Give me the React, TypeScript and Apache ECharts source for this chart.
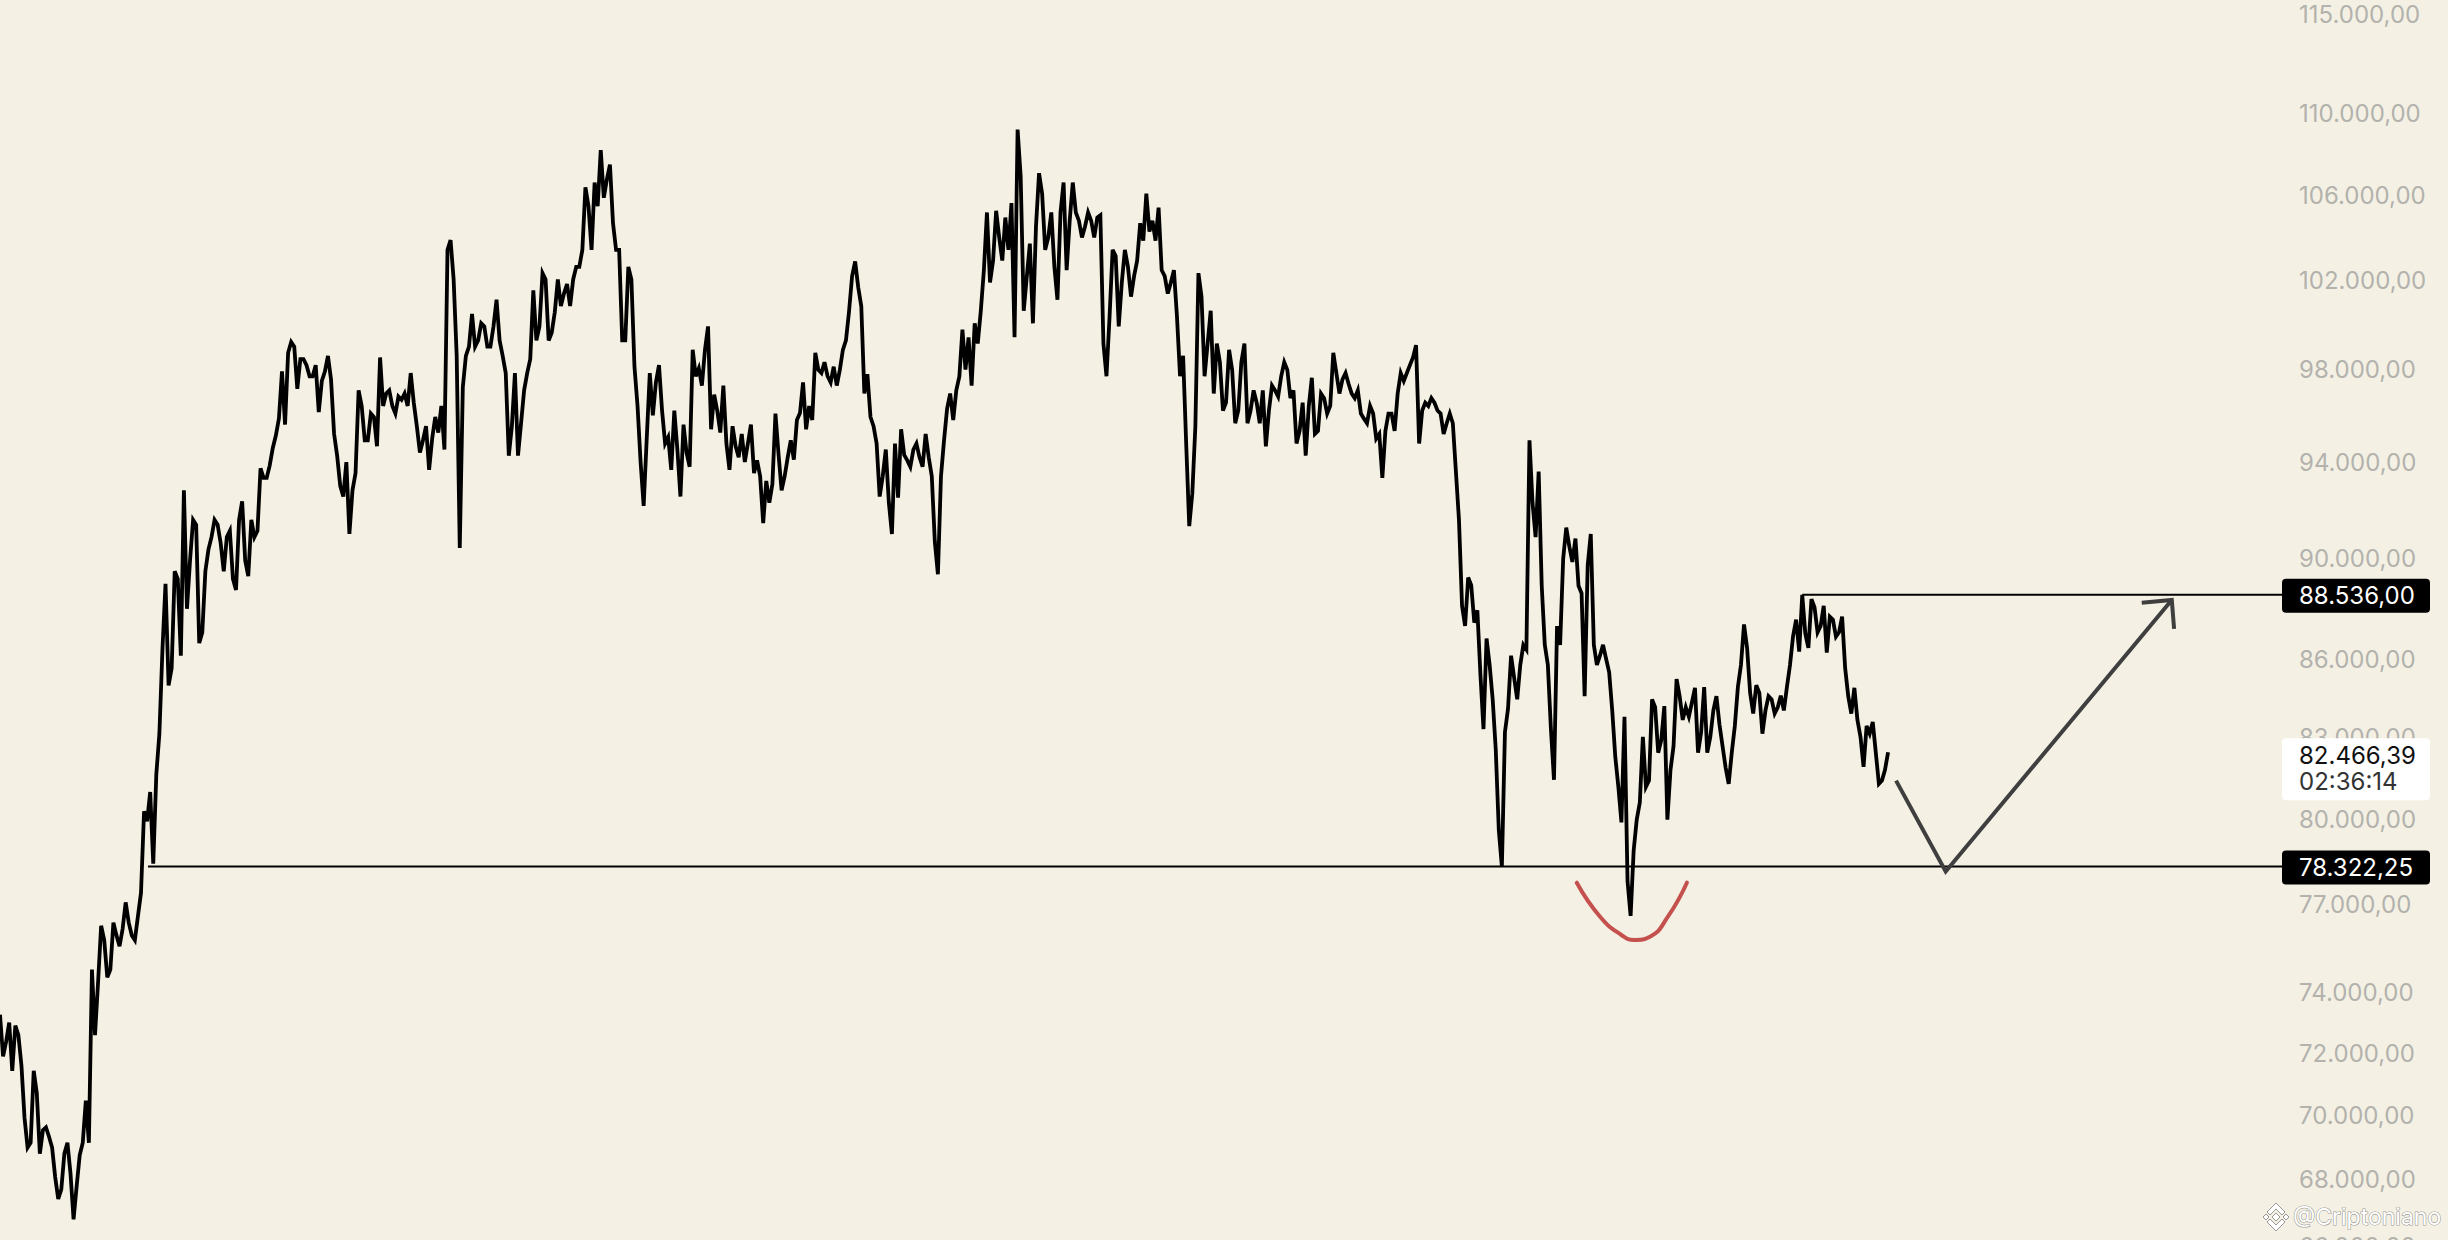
import React, { useEffect, useRef } from 'react';
import * as echarts from 'echarts';

// ---- Data (BTC price) ----
// value at every 12h step (day = i * 0.5)
const pricesAt12h: number[] = [
  73260, 72380, 71430, 72590, 69930, 69150, 70720, 69540, 69340, 68090,
  67710, 69150, 66800, 68760, 70480, 74770, 74350, 75770, 74770, 75930,
  76150, 76370, 75770, 77400, 79940, 78430, 83160, 88980, 85650, 89170,
  92810, 89920, 91380, 87050, 90360, 91580, 90620, 90870, 89170, 91580,
  89920, 91580, 91130, 93330, 93860, 95130, 97920, 98750, 99020, 98470,
  98200, 97710, 96140, 97920, 97570, 94270, 92550, 91000, 93530, 96410,
  94930, 95930, 98540, 96950, 96410, 96820, 96950, 97850, 95530, 94930,
  93670, 95930, 96410, 103440, 102070, 90430, 98610, 100500, 99300, 99930,
  99020, 101140, 98610, 94270, 97850, 95660, 97850, 101570, 99930, 102070,
  99650, 102070, 101420, 100850, 102650, 103440, 105500, 106630, 108200, 106780,
  104690, 103440, 99300, 102070, 96410, 92160, 97850, 97440, 96210, 95060,
  96210, 92550, 94400, 98880, 98060, 98880, 95400, 96210, 97300, 93670,
  94670, 95200, 94790, 93530, 93400, 93200, 93070, 94340, 93400, 94930,
  95800, 97440, 96410, 98750, 97850, 97710, 98130, 97990, 99300, 102220,
  101710, 96950, 95930, 94790, 93400, 92290, 94790, 95400, 94070, 94530,
  94200, 95200, 93400, 89360, 94930, 96950, 97090, 99790, 99440, 100070,
  100640, 105200, 102940, 104020, 104960, 105650, 109210, 100640, 103730, 104540,
  106100, 104020, 102650, 105200, 102500, 106630, 104810, 104540, 104810, 104960,
  99160, 100360, 103150, 101930, 102650, 102220, 104690, 106100, 104810, 105430,
  102220, 101930, 100360, 98610, 91320, 95530, 101280, 99160, 96950, 98330,
  96550, 97990, 96210, 99160, 96210, 96550, 97090, 96210, 97090, 97710,
  97990, 97090, 95330, 94270, 97640, 95330, 96750, 96410, 97850, 97570,
  97370, 96750, 96080, 95660, 96080, 95200, 95330, 96080, 96950, 97500,
  98200, 99090, 96210, 96410, 96550, 96080, 95660, 95660, 91580, 87300,
  88920, 87920, 83330, 85780, 82570, 78322.25, 84100, 85290, 85780, 86380,
  92290, 93600, 86560, 83330, 87300, 89990, 90490, 90810, 88600, 89730,
  86560, 86140, 86020, 84040, 81190, 83800, 76600, 80000, 83040, 81420,
  84160, 82920, 80000, 82690, 84580, 84160, 84340, 82450, 84930, 83040,
  84580, 82690, 81300, 83450, 85780, 86440, 83920, 84700, 84040, 84460,
  84160, 84040, 85780, 87550, 88536, 86440, 88040, 87300, 86260, 87550,
  87050, 85650, 83920, 83680, 81930, 83160, 82450, 81420, 82466.39,
];
// value 6h after each 12h step (the swings in between)
const pricesBetween: number[] = [
  71900, 73000, 72900, 71600, 69000, 71430, 68810, 69630, 69000, 67420,
  68810, 68200, 67800, 69150, 69150, 72590, 76260, 74510, 76370, 75560,
  77070, 75930, 76590, 80300, 81000, 81650, 86380, 84990, 89480, 86140,
  87980, 91580, 86630, 89480, 90870, 91380, 89480, 91130, 88730, 92350,
  89290, 90870, 93730, 93330, 94600, 95860, 95600, 99230, 97160, 98470,
  97710, 98200, 97500, 98610, 95200, 93000, 94000, 92810, 97090, 94930,
  96080, 94670, 96410, 97090, 96080, 96680, 96410, 96550, 94400, 95530,
  95000, 95260, 94530, 103900, 98610, 97230, 99020, 99020, 100070, 99020,
  99930, 99300, 97850, 95530, 94270, 97090, 98470, 99300, 102360, 99300,
  100570, 100850, 101860, 102070, 102650, 106400, 103440, 105500, 105900, 107500,
  103440, 99300, 102650, 98130, 94000, 95000, 96000, 98200, 94790, 93670,
  94530, 95600, 93800, 97710, 97300, 99930, 96900, 95260, 94790, 95530,
  94200, 94000, 95600, 94070, 91450, 92290, 96080, 92810, 94200, 94100,
  96100, 95400, 95800, 97990, 98330, 97440, 97300, 98880, 100600, 102900,
  100850, 97800, 95530, 92550, 94530, 91000, 92500, 94300, 93800, 94790,
  93800, 94200, 90680, 93400, 96300, 95800, 97700, 98000, 97300, 99160,
  102500, 101930, 105280, 102940, 103440, 99440, 106930, 102200, 100070, 107080,
  103440, 105200, 101140, 106630, 104810, 105200, 104020, 105200, 104020, 105070,
  97710, 103440, 99930, 103440, 101280, 102940, 103870, 104300, 103870, 102500,
  101420, 102500, 97710, 94790, 92680, 102360, 97710, 100640, 99160, 96210,
  98880, 95660, 98330, 95660, 97090, 95660, 94670, 97300, 96820, 98330,
  96750, 94790, 96550, 96400, 95200, 96950, 96080, 98750, 96950, 97850,
  96950, 97090, 95860, 96410, 95000, 93330, 96080, 95330, 97850, 97850,
  98540, 94790, 96550, 96750, 96210, 95200, 96080, 93600, 88100, 89230,
  87430, 85410, 86810, 84460, 79610, 83220, 86140, 84460, 86560, 94930,
  90870, 88900, 85780, 81450, 86560, 91260, 89860, 88900, 84580, 91000,
  85780, 86560, 85500, 82300, 79900, 77800, 78900, 80620, 81190, 84460,
  82450, 84200, 81800, 85230, 83680, 83800, 84900, 83200, 82450, 84040,
  83500, 81900, 82450, 84930, 87360, 84700, 85000, 83160, 84580, 83920,
  84600, 84930, 86900, 86300, 87000, 88360, 87050, 88100, 87670, 86880,
  87670, 84580, 84900, 83040, 83450, 83600, 81300, 81820,
];
const STEP_DAYS = 0.5;

const tickValues: number[] = [
  115000, 110000, 106000, 102000, 98000, 94000, 90000, 86000, 83000,
  80000, 77000, 74000, 72000, 70000, 68000, 66000,
];

const supportLevel = 78322.25;
const resistanceLevel = 88536.0;
const lastPrice = 82466.39;
const countdown = '02:36:14';
const supportStartDay = 12.07;
const resistanceStartDay = 147;

// projected path (drawn annotation), [day, price]
const projectionPath: [number, number][] = [
  [154.65, 81420], [158.7, 78150], [177.14, 88330],
];
const arrowHead: [number, number][] = [
  [174.69, 88224], [177.14, 88330], [177.33, 87184],
];
const redArc: [number, number][] = [
  [128.61, 77756], [130.51, 76573], [132.25, 75943], [133.28, 75772],
  [134.58, 75885], [136.04, 76573], [137.59, 77756],
];
const watermark = '@Criptoniano';

const X_MAX = 186.13;
const Y_TOP_PRICE = 115780;
const Y_BOTTOM_PRICE = 64416;

const BG = '#f4f1e4';
const FONT = 'Inter, "Noto Sans", sans-serif';

function fmt(v: number): string {
  const s = v.toFixed(2);
  const [i, d] = s.split('.');
  return i.replace(/\B(?=(\d{3})+(?!\d))/g, '.') + ',' + d;
}

const toLn = (pts: [number, number][]) => pts.map(([x, p]) => [x, Math.log(p)]);

function buildSeries(): number[][] {
  const out: number[][] = [];
  pricesAt12h.forEach((p, i) => {
    out.push([i * STEP_DAYS, Math.log(p)]);
    if (i < pricesBetween.length) {
      out.push([i * STEP_DAYS + STEP_DAYS / 2, Math.log(pricesBetween[i])]);
    }
  });
  return out;
}

export default function App() {
  const ref = useRef<HTMLDivElement>(null);

  useEffect(() => {
    document.body.style.margin = '0';
    if (!ref.current) return;
    const chart = echarts.init(ref.current, undefined, { renderer: 'svg' });

    const option: any = {
      animation: false,
      backgroundColor: BG,
      textStyle: { fontFamily: FONT },
      grid: {
        left: 0, width: 2282, top: 0, height: 1300,
        containLabel: false, outerBoundsMode: 'none',
      },
      xAxis: { type: 'value', min: 0, max: X_MAX, show: false },
      yAxis: {
        type: 'value',
        position: 'right',
        min: Math.log(Y_BOTTOM_PRICE),
        max: Math.log(Y_TOP_PRICE),
        axisLine: { show: false },
        axisTick: { show: false },
        splitLine: { show: false },
        axisLabel: {
          customValues: tickValues.map((v) => Math.log(v)),
          formatter: (v: number) => fmt(Math.round(Math.exp(v))),
          color: '#b3b2ad',
          fontSize: 24,
          fontFamily: FONT,
          margin: 17,
          align: 'left',
        },
      },
      series: [
        {
          type: 'line',
          data: buildSeries(),
          symbol: 'none',
          lineStyle: { color: '#000', width: 3.8, join: 'miter' },
          z: 3,
        },
        {
          type: 'line',
          data: toLn([[supportStartDay, supportLevel], [X_MAX, supportLevel]]),
          symbol: 'none',
          lineStyle: { color: '#000', width: 2 },
          z: 2,
        },
        {
          type: 'line',
          data: toLn([[resistanceStartDay, resistanceLevel], [X_MAX, resistanceLevel]]),
          symbol: 'none',
          lineStyle: { color: '#000', width: 2 },
          z: 2,
        },
        {
          type: 'line',
          data: toLn(projectionPath),
          symbol: 'none',
          lineStyle: { color: '#3f3f3f', width: 4, join: 'miter' },
          z: 4,
        },
        {
          type: 'line',
          data: toLn(arrowHead),
          symbol: 'none',
          lineStyle: { color: '#3f3f3f', width: 4, join: 'miter' },
          z: 4,
        },
        {
          type: 'line',
          data: toLn(redArc),
          smooth: 0.5,
          symbol: 'none',
          lineStyle: { color: '#c5514f', width: 4, cap: 'round' },
          z: 4,
        },
      ],
    };
    chart.setOption(option);

    const px = (day: number, price: number) =>
      chart.convertToPixel({ gridIndex: 0 }, [day, Math.log(price)]) as number[];
    const [xr, yRes] = px(X_MAX, resistanceLevel);
    const [, ySup] = px(X_MAX, supportLevel);
    const [, yLast] = px(X_MAX, lastPrice);

    const tag = (y: number, text: string) => [
      { type: 'rect', shape: { x: xr, y: y - 16, width: 148, height: 34, r: 4 }, style: { fill: '#000' }, z: 10 },
      {
        type: 'text', x: xr + 17, y: y + 1, z: 11,
        style: { text, fill: '#fff', fontSize: 24, fontFamily: FONT, verticalAlign: 'middle', align: 'left' },
      },
    ];

    const logoFill = { fill: '#ffffff', stroke: 'rgba(120,120,120,0.75)', lineWidth: 1 };

    chart.setOption({
      graphic: [
        ...tag(yRes, fmt(resistanceLevel)),
        ...tag(ySup, fmt(supportLevel)),
        { type: 'rect', shape: { x: xr, y: yLast - 14, width: 148, height: 62, r: 4 }, style: { fill: '#ffffff' }, z: 10 },
        {
          type: 'text', x: xr + 17, y: yLast + 3, z: 11,
          style: { text: fmt(lastPrice), fill: '#111', fontSize: 24, fontFamily: FONT, verticalAlign: 'middle', align: 'left' },
        },
        {
          type: 'text', x: xr + 17, y: yLast + 29, z: 11,
          style: { text: countdown, fill: '#333', fontSize: 24, fontFamily: FONT, verticalAlign: 'middle', align: 'left' },
        },
        {
          type: 'group', x: 2276, y: 1217, z: 12,
          children: [
            { type: 'polygon', shape: { points: [[0, -4], [4, 0], [0, 4], [-4, 0]] }, style: logoFill },
            { type: 'polygon', shape: { points: [[-10, -3], [-7, 0], [-10, 3], [-13, 0]] }, style: logoFill },
            { type: 'polygon', shape: { points: [[10, -3], [13, 0], [10, 3], [7, 0]] }, style: logoFill },
            { type: 'polygon', shape: { points: [[-9, -5], [0, -14], [9, -5], [6, -2], [0, -8], [-6, -2]] }, style: logoFill },
            { type: 'polygon', shape: { points: [[-9, 5], [0, 14], [9, 5], [6, 2], [0, 8], [-6, 2]] }, style: logoFill },
          ],
        },
        {
          type: 'text', x: 2293, y: 1217, z: 12,
          style: {
            text: watermark, fill: '#ffffff', stroke: 'rgba(110,110,110,0.7)', lineWidth: 1.2,
            fontSize: 23, fontFamily: FONT, verticalAlign: 'middle', align: 'left',
          },
        },
      ],
    });

    return () => chart.dispose();
  }, []);

  return (
    <div style={{ position: 'fixed', left: 0, top: 0, width: 2448, height: 1240, background: BG }}>
      <div ref={ref} style={{ width: 2448, height: 1240 }} />
    </div>
  );
}
